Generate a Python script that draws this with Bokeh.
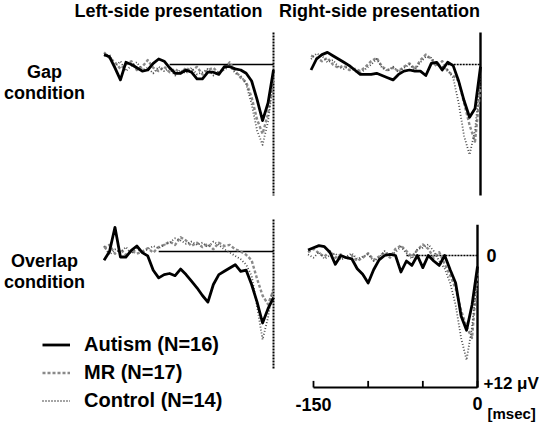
from bokeh.plotting import figure
from bokeh.models import Range1d, Label, Legend, LegendItem
from bokeh.embed import file_html
from bokeh.resources import INLINE

# ---------------- data (µV, positive plotted downward) ----------------
time_ms = [-155, -150, -145, -140, -135, -130, -125, -120, -115, -110, -105,
           -100, -95, -90, -85, -80, -75, -70, -65, -60, -55, -50, -45, -40,
           -35, -30, -25, -20, -15, -10, -5, 0]

# Gap condition, left-side presentation
autism_gap_left = [-0.9, -0.7, 0.3, 1.4, -0.2, 0.0, 0.3, 0.6, 0.5, -0.1, -0.5,
                   -0.3, 0.3, 0.8, 0.8, 0.5, 0.7, 1.3, 1.3, 0.7, 0.7, 0.9, 0.2,
                   0.2, 0.4, 0.5, 0.8, 1.5, 3.2, 5.1, 3.5, 0.5]
mr_gap_left = [-1.1, -0.6, -0.2, 0.4, 0.0, -0.3, 0.5, 0.2, -0.4, 0.3, 0.6,
               0.2, 0.7, 0.4, 0.8, 0.3, 0.6, 0.2, 0.9, 0.5, 0.3, 0.8, 0.4,
               -0.2, 0.6, 1.2, 1.6, 3.0, 5.0, 6.3, 4.5, 1.0]
control_gap_left = [-0.8, -0.9, 0.2, -0.3, 0.6, 0.1, -0.2, 0.5, 0.3, 0.8, 0.2,
                    0.6, 0.4, 1.0, 0.5, 0.8, 0.3, 0.9, 0.7, 0.4, 1.0, 0.6, 0.5,
                    0.1, 0.8, 1.0, 1.8, 3.6, 6.0, 7.3, 5.2, 1.5]

# Gap condition, right-side presentation
autism_gap_right = [0.5, -0.5, -0.9, -1.1, -0.8, -0.5, -0.2, 0.1, 0.5, 0.9, 0.9,
                    0.9, 0.8, 1.0, 1.2, 1.4, 0.9, 0.6, 0.5, 0.6, 0.6, 1.0, -0.1,
                    -0.2, 0.5, -0.2, 0.1, 1.5, 3.3, 4.8, 4.0, 0.2]
mr_gap_right = [-0.8, -0.6, -0.3, -0.6, 0.0, 0.3, 0.1, 0.5, 0.4, 0.6, 0.2,
                -0.3, -0.6, 0.2, 0.5, 0.3, 0.6, 0.2, -0.1, 0.4, -0.4, -0.9, -0.5,
                0.2, -0.3, 0.6, 1.0, 1.5, 3.5, 5.5, 7.0, 2.0]
control_gap_right = [-0.5, -1.0, -0.8, -0.2, -0.4, 0.2, 0.4, 0.1, 0.6, 0.8, 0.4,
                     0.0, -0.5, 0.3, 0.6, 0.2, 0.7, 0.3, 0.0, 0.5, -0.2, -0.7, -0.6,
                     0.0, 0.2, 0.5, 1.2, 3.5, 6.5, 8.2, 6.0, 1.0]

# Overlap condition, left-side presentation
autism_overlap_left = [0.8, 0.0, -2.2, 0.5, 0.5, -0.1, -0.5, 0.1, 0.4, 1.7, 2.4,
                       2.1, 2.0, 2.2, 1.6, 2.1, 2.7, 3.3, 4.0, 4.6, 3.0, 2.1, 1.8,
                       1.5, 1.2, 1.8, 1.7, 3.0, 4.6, 6.5, 5.2, 4.2]
mr_overlap_left = [-0.3, -0.6, 0.2, -0.2, 0.3, -0.1, 0.2, 0.0, -0.3, 0.1, -0.4,
                   -0.6, -0.9, -0.6, -1.3, -1.0, -0.5, -0.8, -0.4, -0.7, -0.2, -0.8,
                   -0.5, -0.6, -0.2, 0.0, 0.3, 0.8, 2.5, 4.0, 4.8, 3.5]
control_overlap_left = [-0.5, 0.3, -0.2, 0.1, -0.4, 0.2, -0.3, 0.1, -0.2, -0.5, -0.3,
                        -0.6, -0.8, -1.2, -1.0, -0.7, -0.9, -0.6, -0.8, -0.4, -0.9, -0.6,
                        -0.2, 0.1, 0.4, 0.7, 1.2, 2.2, 5.0, 8.0, 6.0, 3.0]

# Overlap condition, right-side presentation
autism_overlap_right = [-0.5, -0.7, -0.9, -0.8, -0.3, 0.8, 0.0, 0.2, 0.3, 1.2, 1.7,
                        2.5, 1.3, 0.4, 0.0, -0.1, 0.0, 1.5, 0.5, 0.9, 0.0, 1.1, 0.0,
                        0.5, 0.9, 0.0, 1.3, 2.5, 5.5, 6.8, 4.5, 1.0]
mr_overlap_right = [-0.3, -0.6, -0.2, 0.1, -0.4, 0.2, -0.1, 0.3, 0.0, 0.5, 0.2,
                    -0.2, 0.4, 0.1, -0.3, 0.2, -0.6, -0.9, -0.4, 0.1, -0.5, -1.0, -0.6,
                    0.2, -0.3, 0.8, 1.8, 3.0, 5.0, 6.5, 7.5, 1.5]
control_overlap_right = [-0.1, 0.2, -0.3, 0.3, 0.0, -0.2, 0.4, 0.1, -0.2, 0.3, 0.1,
                         -0.1, 0.5, 0.2, -0.4, 0.0, -0.3, -0.8, -0.2, 0.3, -0.6, -0.7, -1.0,
                         -0.4, 0.5, 1.2, 2.5, 4.5, 7.5, 9.5, 6.5, 1.8]

group_labels = ["Autism (N=16)", "MR (N=17)", "Control (N=14)"]
column_titles = ["Left-side presentation", "Right-side presentation"]
row_titles = [["Gap", "condition"], ["Overlap", "condition"]]
axis_ticks_ms = [-150, -100, -50, 0]
axis_tick_labels = ["-150", "0"]
axis_amplitude_uv = 12
vline_top_uv = [-2.9, -2.9, -2.9, -2.8]
vline_bottom_uv = [11.9, 11.9, 10.7, 12.0]
baseline_start_ms = [-95, -30, -105, -65]

panel_series = [
    (autism_gap_left, mr_gap_left, control_gap_left),
    (autism_gap_right, mr_gap_right, control_gap_right),
    (autism_overlap_left, mr_overlap_left, control_overlap_left),
    (autism_overlap_right, mr_overlap_right, control_overlap_right),
]

# ---------------- layout (page pixels) ----------------
W, H = 544, 422
LEFT, TOP = 8, 8
KX = 164.0 / 150.0      # px per ms
KY = 11.0               # px per µV
panel_zero_px = [(281, 72), (488, 72), (281, 259), (485, 263)]
FONT = "Liberation Sans"
FS = "18px"

p = figure(width=W, height=H, x_range=Range1d(LEFT, LEFT + W),
           y_range=Range1d(TOP + H, TOP), x_axis_type=None, y_axis_type=None,
           toolbar_location=None, output_backend="svg", min_border=0,
           outline_line_color=None)
p.background_fill_color = "white"
p.border_fill_color = "white"

styles = [
    dict(line_color="black", line_width=2.8),
    dict(line_color="#8a8a8a", line_width=2.4, line_dash="3 2"),
    dict(line_color="#4d4d4d", line_width=1.8, line_dash="1 2"),
]

legend_renderers = [[], [], []]
for i, ((X0, Y0), series) in enumerate(zip(panel_zero_px, panel_series)):
    xn, yn = f"px{i}", f"py{i}"
    p.extra_x_ranges[xn] = Range1d((LEFT - X0) / KX, (LEFT + W - X0) / KX)
    p.extra_y_ranges[yn] = Range1d((TOP + H - Y0) / KY, (TOP - Y0) / KY)
    right = i % 2 == 1
    # zero baseline
    p.line([baseline_start_ms[i], 0], [0, 0], line_color="black",
           line_width=1.5, line_dash="2 1" if right else "solid",
           x_range_name=xn, y_range_name=yn)
    # time-zero vertical line
    p.line([0, 0], [vline_top_uv[i], vline_bottom_uv[i]], line_color="black",
           line_width=2.4 if right else 2.0, line_dash="solid" if right else "2 1",
           x_range_name=xn, y_range_name=yn)
    for k in [1, 2, 0]:
        r = p.line(time_ms, series[k], x_range_name=xn, y_range_name=yn,
                   line_join="round", **styles[k])
        legend_renderers[k].append(r)

# scale bar / axis in the overlap, right-side panel
xn, yn = "px3", "py3"
p.line([axis_ticks_ms[0], axis_ticks_ms[-1]], [axis_amplitude_uv, axis_amplitude_uv],
       line_color="black", line_width=1.8, x_range_name=xn, y_range_name=yn)
p.segment(x0=axis_ticks_ms, x1=axis_ticks_ms,
          y0=[axis_amplitude_uv] * len(axis_ticks_ms),
          y1=[axis_amplitude_uv - 0.6] * len(axis_ticks_ms),
          line_color="black", line_width=1.8, x_range_name=xn, y_range_name=yn)

def lab(x, y, t, align="center", size=FS, baseline="middle", **kw):
    p.add_layout(Label(x=x, y=y, text=t, text_align=align, text_baseline=baseline,
                       text_font=FONT, text_font_size=size, text_font_style="bold",
                       text_color="black", **kw))

# column titles
lab(176, 18, column_titles[0])
lab(387, 18, column_titles[1])
# row titles
lab(52, 79, row_titles[0][0])
lab(52, 100, row_titles[0][1])
lab(52, 268, row_titles[1][0])
lab(52, 289, row_titles[1][1])
# axis annotations
lab(axis_ticks_ms[0], axis_amplitude_uv, axis_tick_labels[0], x_range_name=xn,
    y_range_name=yn, baseline="top", y_offset=-10)
lab(axis_ticks_ms[-1], axis_amplitude_uv, axis_tick_labels[1], x_range_name=xn,
    y_range_name=yn, baseline="top", y_offset=-9)
lab(axis_ticks_ms[-1], axis_amplitude_uv, "+12 \u03bcV", align="left", size="17px",
    x_range_name=xn, y_range_name=yn, x_offset=6, y_offset=4)
lab(axis_ticks_ms[-1], axis_amplitude_uv, "[msec]", align="left", size="15px",
    x_range_name=xn, y_range_name=yn, x_offset=10, y_offset=-26)
lab(axis_ticks_ms[-1], 0, "0", align="left", x_range_name=xn, y_range_name=yn,
    x_offset=9)

legend = Legend(items=[LegendItem(label=group_labels[k], renderers=[legend_renderers[k][0]])
                       for k in range(3)],
                location=(42, 10), orientation="vertical", glyph_width=28,
                glyph_height=23, label_height=23, spacing=5, padding=0, margin=0,
                label_standoff=14, border_line_color=None, background_fill_alpha=0,
                label_text_font=FONT, label_text_font_size="20px",
                label_text_font_style="bold", label_text_color="black")
p.add_layout(legend)

open("out.html", "w").write(file_html(p, INLINE))
